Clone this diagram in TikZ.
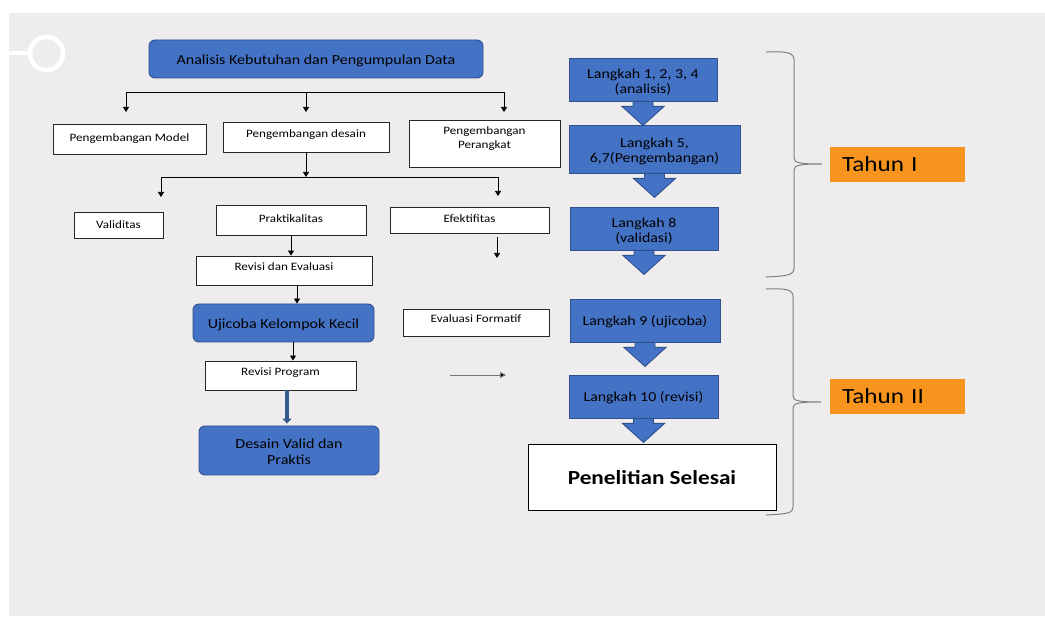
\documentclass[tikz,border=0pt]{standalone}
\usepackage{fontspec}
\setmainfont{Carlito}[FakeStretch=1.16]
\usetikzlibrary{arrows.meta}
\definecolor{bg}{HTML}{EEECED}
\definecolor{mblue}{HTML}{4472C4}
\definecolor{mbluedk}{HTML}{2F528F}
\definecolor{morange}{HTML}{F7941E}
\definecolor{bracec}{HTML}{808080}
\definecolor{thickc}{HTML}{34598A}
\newcommand\pushdn[1]{\rule{0pt}{#1}}
\begin{document}
\begin{tikzpicture}[x=1pt,y=-1pt,
  wbox/.style={draw=black!85, fill=white, line width=0.9pt, inner sep=0pt, font=\fontsize{11.3}{14}\selectfont, align=center},
  raise/.style={text height=8.5pt, text depth=#1},
  low/.style={text height=10.5pt, text depth=0pt},
  bbox/.style={draw=mbluedk, fill=mblue, line width=0.9pt, rounded corners=6pt, inner sep=0pt, font=\fontsize{13.8}{16}\selectfont, align=center},
  lbox/.style={draw=mbluedk, fill=mblue, line width=0.9pt, inner sep=0pt, font=\fontsize{13.7}{15.5}\selectfont, align=center},
  tbox/.style={fill=morange, inner xsep=12pt, inner ysep=0pt, text width=111pt, minimum height=35pt, align=left, font=\fontsize{21.7}{24}\selectfont},
  arr/.style={-{Triangle[width=6pt,length=5pt]}, line width=0.7pt},
  bus/.style={line width=0.7pt},
  blk/.style={draw=mbluedk, fill=mblue, line width=0.9pt, line join=miter},
  brc/.style={draw=bracec, line width=1pt},
  fat/.style={-{Triangle[width=9pt,length=5pt]}, line width=4pt, draw=thickc}
]
\useasboundingbox (0,0) rectangle (1045,617);
\fill[white] (0,0) rectangle (1045,617);
\fill[bg] (9,13) rectangle (1045,616);

% ornament
\draw[white, line width=4.5pt] (9,53) -- (29,53);
\draw[white, line width=4.5pt] (46.5,53.5) circle[radius=16.5pt];

% left column nodes
\node[bbox, low, minimum width=334pt, minimum height=38pt] (top) at (316,59) {Analisis Kebutuhan dan Pengumpulan Data};
\node[wbox, minimum width=153pt, minimum height=30pt] (pm) at (129.5,139) {Pengembangan Model};
\node[wbox, raise=8pt, minimum width=166pt, minimum height=30pt] (pd) at (306,137) {Pengembangan desain};
\node[wbox, minimum width=151pt, minimum height=47pt] (pp) at (484.5,143.5) {\raisebox{0pt}[8.5pt][26pt]{\begin{tabular}[t]{@{}c@{}}Pengembangan\\Perangkat\end{tabular}}};
\node[wbox, minimum width=89pt, minimum height=26pt] (val) at (118.5,225) {Validitas};
\node[wbox, raise=4pt, minimum width=150pt, minimum height=30pt] (prak) at (291,220) {Praktikalitas};
\node[wbox, raise=4pt, minimum width=159pt, minimum height=26pt] (efek) at (469.5,220) {Efektifitas};
\node[wbox, raise=7.5pt, minimum width=176pt, minimum height=29pt] (rde) at (284,270.5) {Revisi dan Evaluasi};
\node[bbox, low, minimum width=181pt, minimum height=38pt] (uji) at (283.5,323) {Ujicoba Kelompok Kecil};
\node[wbox, raise=7.5pt, minimum width=146pt, minimum height=27pt] (evf) at (476,322.5) {Evaluasi Formatif};
\node[wbox, raise=7.5pt, minimum width=151pt, minimum height=29pt] (rp) at (280.5,375.5) {Revisi Program};
\node[bbox, minimum width=180pt, minimum height=49pt] (dvp) at (289,450.5) {\pushdn{12.5pt}Desain Valid dan\\Praktis};

% right column nodes
\node[lbox, minimum width=148pt, minimum height=43pt] (l1) at (643,79.5) {\pushdn{14.5pt}Langkah 1, 2, 3, 4\\(analisis)};
\node[lbox, minimum width=171pt, minimum height=48pt] (l2) at (654.5,149) {\pushdn{14.5pt}Langkah 5,\\6,7(Pengembangan)};
\node[lbox, minimum width=148pt, minimum height=43pt] (l3) at (644,228.5) {\pushdn{14.5pt}Langkah 8\\(validasi)};
\node[lbox, low, minimum width=150pt, minimum height=43pt] (l4) at (645,320.5) {Langkah 9 (ujicoba)};
\node[lbox, low, minimum width=149pt, minimum height=43pt] (l5) at (643.5,396.5) {Langkah 10 (revisi)};
\node[draw=black, fill=white, line width=1pt, minimum width=248pt, minimum height=66pt, font=\fontsize{20}{24}\selectfont\bfseries] (ps) at (652,478) {Penelitian Selesai};
\node[tbox] (t1) at (897.5,164.5) {Tahun I};
\node[tbox] (t2) at (897.5,396.5) {Tahun II};

% bus 1
\coordinate (b1l) at (126,92); \coordinate (b1m) at (306,92); \coordinate (b1r) at (504,92);
\coordinate (a1) at (126,112); \coordinate (a2) at (306,112); \coordinate (a3) at (504,112);
\draw[bus] (b1l) -- (b1r);
\draw[arr] (b1l) -- (a1);
\draw[arr] (b1m) -- (a2);
\draw[arr] (b1r) -- (a3);

% bus 2
\coordinate (b2l) at (161,177); \coordinate (b2m) at (306,177); \coordinate (b2r) at (498,177);
\coordinate (c1) at (161,197); \coordinate (c2) at (498,196);
\draw[arr] (pd.south) -- (b2m);
\draw[bus] (b2l) -- (b2r);
\draw[arr] (b2l) -- (c1);
\draw[arr] (b2r) -- (c2);

% vertical chain
\draw[arr] (prak.south) -- ([xshift=7pt]rde.north);
\coordinate (e1) at (497,237); \coordinate (e2) at (497,258);
\draw[arr] (e1) -- (e2);
\draw[arr] ([xshift=13pt]rde.south) -- ([xshift=13.5pt]uji.north);
\draw[arr] ([xshift=9.5pt]uji.south) -- ([xshift=12.5pt]rp.north);
\draw[fat, shorten >=2pt] ([xshift=6.5pt]rp.south) -- ([xshift=-2pt]dvp.north);

% free arrow
\coordinate (f1) at (450,375); \coordinate (f2) at (506,375);
\draw[draw=black!55, line width=0.9pt, -{Triangle[width=6pt,length=6pt,fill=black]}] (f1) -- (f2);

% block arrows
\foreach \n in {l1,l2,l3,l4,l5}{
  \draw[blk] (\n.south) ++(-10,0) -- ++(20,0) -- ++(0,5) -- ++(11,0) -- ++(-21,19) -- ++(-21,-19) -- ++(11,0) -- cycle;
}

% braces
\draw[brc] (766,52) .. controls (788,51) and (794,53) .. (794,60) -- (794,158) .. controls (794,163) and (800,164) .. (822,164) .. controls (800,164) and (794,165) .. (794,170) -- (794,268) .. controls (794,275) and (788,276) .. (766,277);
\draw[brc] (766,289) .. controls (788,288) and (793,290) .. (793,297) -- (793,396) .. controls (793,401) and (799,402) .. (821,402) .. controls (799,402) and (793,403) .. (793,408) -- (793,507) .. controls (793,513) and (788,514) .. (766,515);
\end{tikzpicture}
\end{document}
